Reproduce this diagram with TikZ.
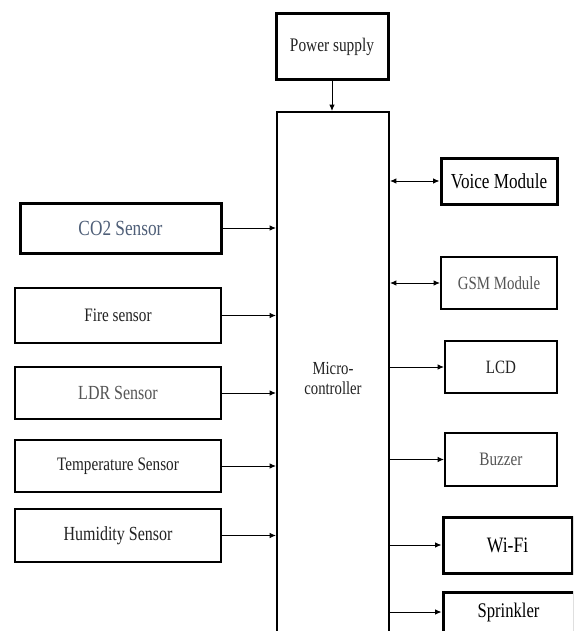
\documentclass[tikz,border=0pt]{standalone}
\usepackage{fontspec}
\setmainfont{Liberation Serif}
\usetikzlibrary{arrows.meta}
\usepackage{xcolor}
\definecolor{txtdark}{HTML}{222222}
\definecolor{txtgray}{HTML}{555555}
\definecolor{txtblue}{HTML}{4F5F78}
% the printed labels are narrow and tall
\newcommand{\narrowtxt}[1]{\scalebox{0.8}[1]{#1}}

\begin{document}
\begin{tikzpicture}[x=0.5pt, y=-0.5pt,
    blk/.style={draw, line width=1pt, fill=white, inner sep=0pt, text=txtdark},
    thkblk/.style={blk, line width=1.5pt},
    arr/.style={-{Latex[length=3.2pt,width=2.8pt]}, line width=0.5pt},
    darr/.style={{Latex[length=3.2pt,width=2.8pt]}-{Latex[length=3.2pt,width=2.8pt]}, line width=0.5pt}]
        \clip (0,0) rectangle (573,631);
        \fill[white] (0,0) rectangle (573,631);
        % top and centre
        \node[thkblk, minimum width=56pt, minimum height=33pt,
              font=\fontsize{9.6}{11}\selectfont] (pwr) at (332,47) {\narrowtxt{Power supply}};
        \node[blk, minimum width=56pt, minimum height=266pt, align=center,
              font=\fontsize{9.2}{10}\selectfont] (mc) at (333,378)
              {\narrowtxt{Micro-}\\\narrowtxt{controller}};
        \draw[arr] (pwr.south) -- (pwr.south |- mc.north);
        % inputs
        \node[thkblk, minimum width=100.5pt, minimum height=25pt, text=txtblue,
              font=\fontsize{10.8}{12}\selectfont] (co2) at (120.5,228) {\narrowtxt{CO2 Sensor}};
        \node[blk, minimum width=103pt, minimum height=27.5pt,
              font=\fontsize{9.5}{11}\selectfont] (fire) at (118,315.5) {\narrowtxt{Fire sensor}};
        \node[blk, minimum width=103pt, minimum height=26pt, text=txtgray,
              font=\fontsize{10}{11}\selectfont] (ldr) at (118,393) {\narrowtxt{LDR Sensor}};
        \node[blk, minimum width=103pt, minimum height=26pt,
              font=\fontsize{9.5}{11}\selectfont] (temp) at (118,466) {\narrowtxt{Temperature Sensor}};
        \node[blk, minimum width=103pt, minimum height=26.5pt,
              font=\fontsize{10}{11}\selectfont] (hum) at (118,535.5) {\narrowtxt{Humidity Sensor}};
        \foreach \s in {co2,fire,ldr,temp,hum}
          \draw[arr] (\s.east) -- (\s.east -| mc.west);
        % outputs
        \node[thkblk, minimum width=58pt, minimum height=23pt, text=black,
              font=\fontsize{10.7}{12}\selectfont] (voice) at (499,181) {\narrowtxt{Voice Module}};
        \node[blk, minimum width=58pt, minimum height=26pt, text=txtgray,
              font=\fontsize{9.3}{11}\selectfont] (gsm) at (499,283) {\narrowtxt{GSM Module}};
        \node[blk, minimum width=56pt, minimum height=26pt,
              font=\fontsize{9.4}{11}\selectfont] (lcd) at (501,367) {\narrowtxt{LCD}};
        \node[blk, minimum width=56pt, minimum height=26.5pt, text=txtgray,
              font=\fontsize{9.5}{11}\selectfont] (buzz) at (501,459.5) {\narrowtxt{Buzzer}};
        \node[thkblk, minimum width=64.5pt, minimum height=28pt, text=black,
              font=\fontsize{11}{12}\selectfont] (wifi) at (507.5,545) {\narrowtxt{Wi-Fi}};
        \node[thkblk, minimum width=65.5pt, minimum height=20pt, text=black,
              font=\fontsize{10.4}{12}\selectfont] (spr) at (508.5,612) {\narrowtxt{Sprinkler}};
        \foreach \s in {voice,gsm}
          \draw[darr] (\s.west -| mc.east) -- (\s.west);
        \foreach \s in {lcd,buzz,wifi,spr}
          \draw[arr] (\s.west -| mc.east) -- (\s.west);
\end{tikzpicture}
\end{document}
